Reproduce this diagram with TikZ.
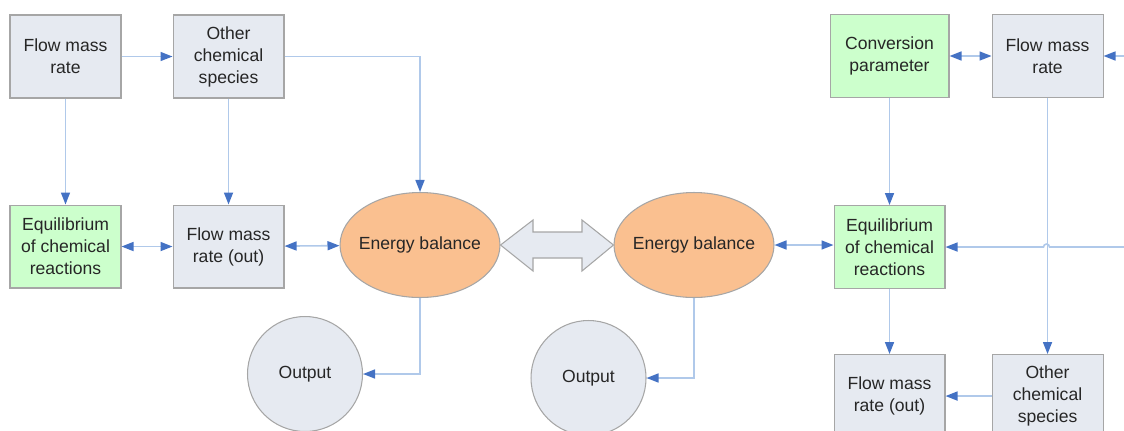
\documentclass[tikz,border=0pt]{standalone}
\usepackage{fontspec}
\setmainfont{Liberation Sans}
\usetikzlibrary{positioning, shapes, arrows.meta}

\definecolor{boxblue}{HTML}{E6EAF1}
\definecolor{boxgreen}{HTML}{CCFFCC}
\definecolor{ballorange}{HTML}{FAC090}
\definecolor{edgegray}{HTML}{A6A6A6}
\definecolor{linkblue}{HTML}{B0C9EA}
\definecolor{tipblue}{HTML}{4472C4}

\tikzset{
    txt/.style={text=black!85, font=\fontsize{10}{12.5}\selectfont, align=center},
    block/.style={txt, draw=edgegray, fill=boxblue, line width=0.6pt, minimum width=2.22cm, minimum height=1.66cm, inner sep=1pt},
    greenblock/.style={block, fill=boxgreen},
    balance/.style={txt, ellipse, draw=edgegray, fill=ballorange, line width=0.6pt, minimum width=3.2cm, minimum height=2.1cm, inner xsep=-0.14cm, inner ysep=0pt},
    outcircle/.style={txt, circle, draw=edgegray, fill=boxblue, line width=0.6pt, minimum size=2.3cm, inner sep=0pt},
    tip/.tip={Triangle[length=0.24cm, width=0.18cm, color=tipblue]},
    link/.style={draw=linkblue, line width=0.9pt, -tip},
    bilink/.style={link, tip-tip}
}

\begin{document}
\begin{tikzpicture}[x=0.02cm, y=-0.02cm]
    \useasboundingbox (0,0) rectangle (1124,430);

    % left half
    \node[block] at (65.5,56.5) (fm1) {Flow mass\\rate};
    \node[block, right=1.02cm of fm1] (ocs1) {Other\\chemical\\species};
    \node[greenblock, below=2.12cm of fm1] (eq1) {Equilibrium\\of chemical\\reactions};
    \node[block, below=2.12cm of ocs1] (fmo1) {Flow mass\\rate (out)};
    \node[balance] at (420,245) (eb1) {Energy balance};
    \node[outcircle] at (305,374) (out1) {Output};

    % right half
    \node[balance] at (694,245) (eb2) {Energy balance};
    \node[outcircle] at (588.5,378) (out2) {Output};
    \node[greenblock, minimum width=2.38cm] at (889.5,56) (cp) {Conversion\\parameter};
    \node[block, right=0.84cm of cp] (fm2) {Flow mass\\rate};
    \node[greenblock, below=2.14cm of cp] (eq2) {Equilibrium\\of chemical\\reactions};
    \node[block, below=1.3cm of eq2] (fmo2) {Flow mass\\rate (out)};
    \node[block, right=0.92cm of fmo2] (ocs2) {Other\\chemical\\species};
    \coordinate (in2) at (1124,56);
    \coordinate (in3) at (eq2.east -| in2);

    % big arrow between the two balances
    \draw[draw=edgegray, fill=boxblue, line width=0.6pt] (eb1.east) -- (533,220) -- (533,232) -- (582,232) -- (582,220)
        -- (eb2.west) -- (582,271) -- (582,258) -- (533,258) -- (533,271) -- cycle;

    \draw[link] (fm1) -- (ocs1);
    \draw[link] (fm1) -- (eq1);
    \draw[link] (ocs1) -- (fmo1);
    \draw[link] (ocs1.east) -| (eb1.north);
    \draw[bilink] (eq1) -- (fmo1);
    \draw[bilink] (fmo1) -- (eb1);
    \draw[link] (eb1.south) |- (out1.east);

    \draw[link] (eb2.south) |- (out2.east);
    \draw[bilink] (eb2) -- (eq2.west |- eb2);
    \draw[bilink] (cp) -- (fm2);
    \draw[link] (in2) -- (fm2.east);
    \draw[link] (cp) -- (eq2);
    \draw[link] (fm2) -- (ocs2);
    \draw[link] (in3) -- ++(-74.5,0) arc[start angle=0, end angle=-180, radius=3] -- (eq2.east);
    \draw[link] (eq2) -- (fmo2);
    \draw[link] (ocs2) -- (fmo2);
\end{tikzpicture}
\end{document}
